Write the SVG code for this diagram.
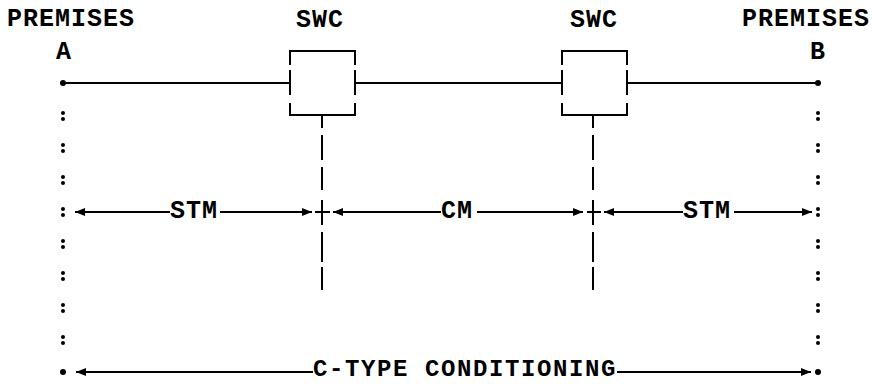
<svg xmlns="http://www.w3.org/2000/svg" width="878" height="384" viewBox="0 0 878 384">
<style>
text{font-family:"Liberation Mono","DejaVu Sans Mono",monospace;font-weight:bold;font-size:25px;letter-spacing:1px;fill:#000}
.bt{font-size:24px;letter-spacing:1.6px}
.ln{stroke:#000;stroke-width:2;fill:none}
.dot{fill:#000}
</style>
<defs>
<marker id="ah" markerUnits="userSpaceOnUse" markerWidth="10" markerHeight="8" viewBox="0 0 10 8" refX="10" refY="4" orient="auto">
<path d="M0,0 L10,4 L0,8 z" fill="#000"/>
</marker>
</defs>
<rect width="878" height="384" fill="#fff"/>

<g id="premises-a">
<text x="7" y="26">PREMISES</text>
<text x="56" y="59">A</text>
<circle class="dot" cx="63" cy="83" r="3"/>
<g class="dot">
<circle cx="63" cy="113" r="2"/><circle cx="63" cy="119" r="2"/>
<circle cx="63" cy="145" r="2"/><circle cx="63" cy="151" r="2"/>
<circle cx="63" cy="177" r="2"/><circle cx="63" cy="183" r="2"/>
<circle cx="63" cy="209" r="2"/><circle cx="63" cy="215" r="2"/>
<circle cx="63" cy="241" r="2"/><circle cx="63" cy="247" r="2"/>
<circle cx="63" cy="273" r="2"/><circle cx="63" cy="279" r="2"/>
<circle cx="63" cy="305" r="2"/><circle cx="63" cy="311" r="2"/>
<circle cx="63" cy="337" r="2"/><circle cx="63" cy="343" r="2"/>
</g>
<circle class="dot" cx="63" cy="372" r="3"/>
</g>

<g id="premises-b">
<text x="742" y="26">PREMISES</text>
<text x="810" y="59">B</text>
<circle class="dot" cx="818" cy="83" r="3"/>
<g class="dot">
<circle cx="818" cy="113" r="2"/><circle cx="818" cy="119" r="2"/>
<circle cx="818" cy="145" r="2"/><circle cx="818" cy="151" r="2"/>
<circle cx="818" cy="177" r="2"/><circle cx="818" cy="183" r="2"/>
<circle cx="818" cy="209" r="2"/><circle cx="818" cy="215" r="2"/>
<circle cx="818" cy="241" r="2"/><circle cx="818" cy="247" r="2"/>
<circle cx="818" cy="273" r="2"/><circle cx="818" cy="279" r="2"/>
<circle cx="818" cy="305" r="2"/><circle cx="818" cy="311" r="2"/>
<circle cx="818" cy="337" r="2"/><circle cx="818" cy="343" r="2"/>
</g>
<circle class="dot" cx="818" cy="372" r="3"/>
</g>

<g id="swc-1">
<text x="296" y="27">SWC</text>
<path class="ln" d="M290,65 V51 H355 V65 M290,70 V95 M355,70 V95 M290,103 V115 H355 V103"/>
</g>

<g id="swc-2">
<text x="570" y="27">SWC</text>
<path class="ln" d="M562,65 V51 H627 V65 M562,70 V95 M627,70 V95 M562,103 V115 H627 V103"/>
</g>

<g id="connectors">
<path class="ln" d="M63,83 H290 M355,83 H562 M627,83 H818"/>
<path class="ln" d="M322,115 V128 M322,135 V160 M322,167 V190 M322,200 V225 M322,232 V262 M322,267 V290"/>
<path class="ln" d="M593,115 V128 M593,135 V160 M593,167 V190 M593,200 V225 M593,232 V262 M593,267 V290"/>
<path class="ln" d="M315,212 H330 M587,212 H601"/>
<line class="ln" x1="170" y1="212" x2="75" y2="212" marker-end="url(#ah)"/>
<line class="ln" x1="220" y1="212" x2="312" y2="212" marker-end="url(#ah)"/>
<line class="ln" x1="441" y1="212" x2="333" y2="212" marker-end="url(#ah)"/>
<line class="ln" x1="477" y1="212" x2="583" y2="212" marker-end="url(#ah)"/>
<line class="ln" x1="683" y1="212" x2="604" y2="212" marker-end="url(#ah)"/>
<line class="ln" x1="734" y1="212" x2="812" y2="212" marker-end="url(#ah)"/>
<line class="ln" x1="313" y1="372" x2="76" y2="372" marker-end="url(#ah)"/>
<line class="ln" x1="617" y1="372" x2="811" y2="372" marker-end="url(#ah)"/>
<text x="170" y="218">STM</text>
<text x="441" y="218">CM</text>
<text x="683" y="218">STM</text>
<text class="bt" x="313" y="376">C-TYPE CONDITIONING</text>
</g>
</svg>
